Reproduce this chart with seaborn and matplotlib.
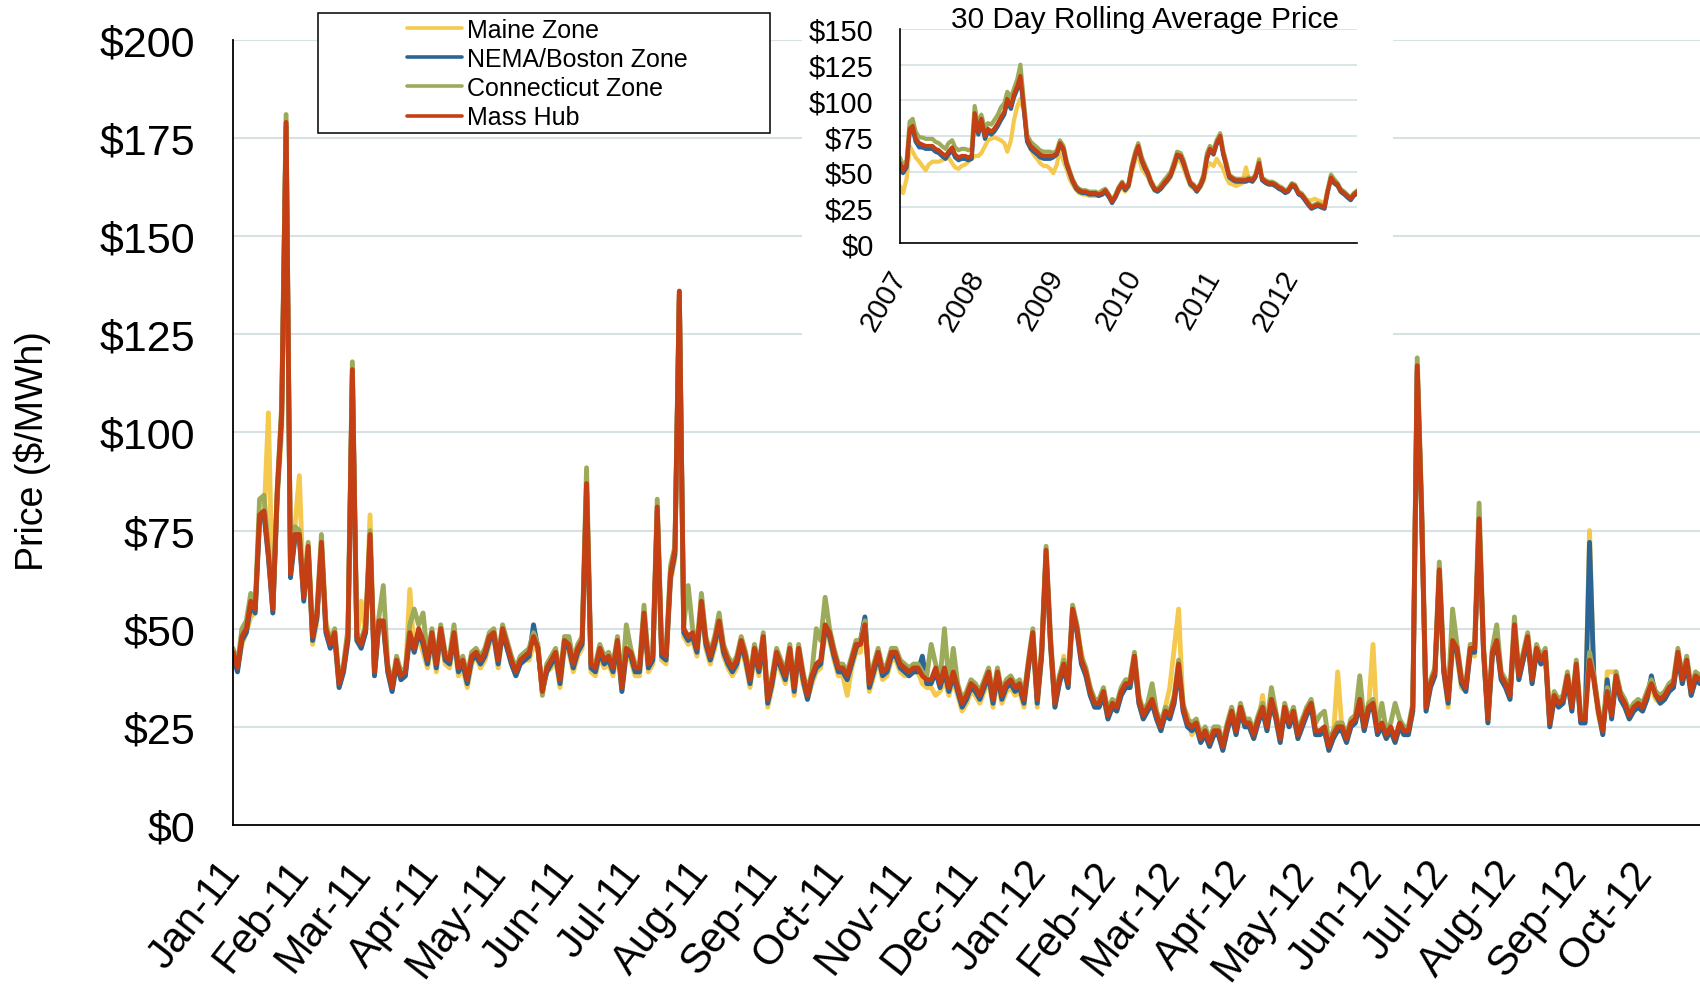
import matplotlib
matplotlib.use("Agg")
import matplotlib.pyplot as plt
from matplotlib.lines import Line2D
from matplotlib.patches import Rectangle
import pandas as pd
import seaborn as sns

zones = ["Maine Zone", "NEMA/Boston Zone", "Connecticut Zone", "Mass Hub"]
zone_colors = ["#F5C84E", "#2B6596", "#9BAB5A", "#C43F13"]

month_labels = ["Jan-11", "Feb-11", "Mar-11", "Apr-11", "May-11", "Jun-11",
                "Jul-11", "Aug-11", "Sep-11", "Oct-11", "Nov-11", "Dec-11",
                "Jan-12", "Feb-12", "Mar-12", "Apr-12", "May-12", "Jun-12",
                "Jul-12", "Aug-12", "Sep-12", "Oct-12"]
year_labels = ["2007", "2008", "2009", "2010", "2011", "2012"]

# daily price ($/MWh), every second day from 1 Jan 2011
mass_hub = [44, 40, 48, 50, 57, 55, 79, 80, 69, 55,
            85, 105, 179, 64, 74, 74, 58, 71, 48, 54,
            72, 50, 46, 49, 36, 40, 48, 116, 48, 46,
            50, 74, 39, 52, 52, 40, 35, 42, 38, 39,
            49, 45, 50, 47, 42, 49, 41, 50, 43, 42,
            49, 40, 42, 37, 43, 44, 42, 44, 48, 49,
            42, 50, 46, 42, 39, 42, 43, 44, 48, 45,
            34, 40, 42, 44, 37, 47, 46, 41, 45, 47,
            87, 41, 40, 45, 42, 43, 40, 47, 35, 45,
            44, 40, 40, 54, 41, 43, 81, 44, 43, 64,
            70, 136, 50, 48, 49, 45, 57, 47, 43, 47,
            52, 45, 42, 40, 42, 47, 43, 37, 45, 40,
            48, 32, 37, 44, 41, 38, 45, 35, 45, 38,
            33, 38, 41, 42, 51, 49, 44, 40, 40, 38,
            42, 46, 46, 51, 36, 40, 44, 39, 40, 44,
            44, 41, 40, 39, 40, 40, 38, 37, 37, 40,
            36, 40, 35, 39, 35, 31, 33, 36, 35, 33,
            36, 39, 32, 39, 33, 36, 37, 35, 36, 32,
            41, 49, 32, 44, 70, 47, 31, 37, 41, 36,
            55, 50, 42, 39, 34, 31, 31, 34, 28, 31,
            30, 34, 36, 36, 43, 32, 28, 30, 32, 28,
            25, 29, 28, 32, 41, 30, 26, 25, 26, 22,
            24, 21, 24, 24, 20, 25, 29, 24, 30, 26,
            26, 23, 27, 30, 25, 32, 28, 22, 30, 26,
            29, 23, 26, 29, 31, 24, 24, 25, 20, 23,
            25, 25, 22, 26, 27, 32, 25, 30, 31, 24,
            26, 23, 25, 22, 26, 24, 24, 30, 117, 80,
            30, 36, 39, 65, 40, 32, 47, 45, 37, 35,
            45, 45, 78, 45, 27, 44, 47, 38, 36, 33,
            51, 38, 43, 48, 37, 45, 42, 44, 26, 33,
            31, 32, 38, 30, 41, 27, 27, 42, 37, 29,
            24, 34, 28, 38, 33, 31, 28, 30, 31, 30,
            33, 36, 33, 32, 33, 35, 36, 44, 37, 42,
            34, 38, 37]

connecticut = [45, 41, 50, 52, 59, 56, 83, 84, 70, 56,
               86, 107, 181, 65, 76, 75, 59, 72, 49, 55,
               74, 51, 47, 50, 37, 41, 50, 118, 49, 47,
               51, 75, 40, 53, 61, 41, 36, 43, 39, 40,
               51, 55, 51, 54, 43, 50, 42, 51, 44, 43,
               51, 41, 43, 38, 44, 45, 43, 45, 49, 50,
               43, 51, 47, 43, 40, 43, 44, 45, 49, 46,
               33, 41, 43, 45, 38, 48, 48, 42, 46, 48,
               91, 42, 41, 46, 43, 44, 41, 48, 36, 51,
               45, 41, 41, 56, 42, 44, 83, 45, 44, 66,
               71, 136, 51, 61, 50, 46, 59, 48, 44, 48,
               54, 46, 43, 41, 43, 48, 44, 38, 46, 41,
               49, 33, 38, 45, 42, 39, 46, 36, 46, 39,
               34, 39, 50, 47, 58, 50, 45, 41, 41, 39,
               43, 47, 47, 52, 37, 41, 45, 40, 41, 45,
               45, 42, 41, 40, 41, 41, 39, 38, 46, 41,
               37, 50, 36, 45, 36, 32, 34, 37, 36, 34,
               37, 40, 33, 40, 34, 37, 38, 36, 37, 33,
               42, 50, 33, 45, 71, 48, 32, 38, 42, 37,
               56, 51, 43, 40, 35, 32, 32, 35, 29, 32,
               31, 35, 37, 37, 44, 33, 29, 31, 36, 29,
               26, 30, 29, 33, 42, 31, 27, 26, 27, 23,
               25, 22, 25, 25, 21, 26, 30, 25, 31, 27,
               27, 24, 28, 31, 26, 35, 29, 23, 31, 27,
               30, 24, 27, 30, 32, 26, 28, 29, 21, 24,
               26, 26, 23, 27, 28, 38, 26, 31, 32, 25,
               31, 24, 26, 31, 27, 25, 25, 31, 119, 82,
               31, 37, 40, 67, 41, 33, 55, 46, 38, 36,
               46, 46, 82, 46, 28, 45, 51, 39, 37, 34,
               53, 39, 44, 49, 38, 46, 43, 45, 27, 34,
               32, 33, 39, 31, 42, 28, 28, 44, 38, 30,
               25, 35, 29, 39, 34, 32, 29, 31, 32, 31,
               34, 37, 34, 33, 34, 36, 37, 45, 38, 43,
               35, 39, 38]

nema = [43, 39, 47, 49, 56, 54, 78, 79, 68, 54,
        84, 104, 178, 63, 73, 73, 57, 70, 47, 53,
        71, 49, 45, 48, 35, 39, 47, 115, 47, 45,
        49, 73, 38, 51, 51, 39, 34, 41, 37, 38,
        48, 44, 49, 46, 41, 48, 40, 49, 42, 41,
        48, 39, 41, 36, 42, 43, 41, 43, 47, 48,
        41, 49, 45, 41, 38, 41, 42, 43, 51, 45,
        34, 39, 41, 43, 36, 46, 45, 40, 44, 46,
        86, 40, 39, 44, 41, 42, 39, 46, 34, 44,
        43, 39, 39, 53, 40, 42, 80, 43, 42, 63,
        69, 135, 49, 47, 48, 44, 56, 46, 42, 46,
        51, 44, 41, 39, 41, 46, 42, 36, 44, 39,
        47, 31, 36, 43, 40, 37, 44, 34, 44, 37,
        32, 37, 40, 41, 50, 48, 43, 39, 39, 37,
        41, 45, 47, 53, 35, 39, 43, 38, 39, 43,
        43, 40, 39, 38, 39, 39, 43, 36, 36, 39,
        35, 39, 34, 38, 34, 30, 32, 35, 34, 32,
        35, 38, 31, 38, 32, 35, 36, 34, 35, 31,
        40, 48, 31, 43, 69, 46, 30, 36, 40, 35,
        54, 49, 41, 38, 33, 30, 30, 33, 27, 30,
        29, 33, 35, 35, 42, 31, 27, 29, 31, 27,
        24, 28, 27, 31, 40, 29, 25, 24, 25, 21,
        23, 20, 23, 23, 19, 24, 28, 23, 29, 25,
        25, 22, 26, 29, 24, 31, 27, 21, 29, 25,
        28, 22, 25, 28, 30, 23, 23, 24, 19, 22,
        24, 24, 21, 25, 26, 31, 24, 29, 30, 23,
        25, 22, 24, 21, 25, 23, 23, 29, 116, 79,
        29, 35, 38, 64, 39, 31, 46, 44, 36, 34,
        44, 44, 77, 44, 26, 43, 46, 37, 35, 32,
        50, 37, 42, 47, 36, 44, 41, 43, 25, 32,
        30, 31, 37, 29, 40, 26, 26, 72, 37, 29,
        23, 37, 27, 37, 32, 30, 27, 29, 30, 29,
        32, 38, 33, 31, 32, 34, 35, 43, 36, 41,
        33, 37, 36]

maine = [43, 40, 46, 49, 53, 54, 77, 78, 105, 54,
         83, 100, 176, 65, 76, 89, 58, 70, 46, 52,
         71, 52, 47, 47, 35, 39, 47, 113, 47, 57,
         49, 79, 38, 51, 51, 39, 34, 41, 37, 38,
         60, 44, 48, 44, 40, 47, 39, 48, 41, 40,
         47, 38, 40, 35, 41, 43, 40, 42, 46, 48,
         40, 49, 45, 41, 38, 41, 42, 42, 46, 44,
         35, 39, 40, 42, 35, 45, 44, 39, 43, 45,
         85, 39, 38, 43, 40, 41, 38, 45, 34, 43,
         42, 38, 38, 52, 39, 41, 79, 42, 41, 62,
         68, 134, 48, 46, 47, 43, 55, 45, 41, 45,
         50, 43, 40, 38, 40, 45, 41, 35, 43, 38,
         46, 30, 35, 42, 39, 36, 43, 33, 43, 36,
         32, 36, 39, 40, 49, 47, 42, 38, 38, 33,
         40, 44, 44, 52, 34, 38, 42, 37, 38, 42,
         42, 39, 38, 38, 39, 39, 36, 35, 35, 33,
         34, 37, 33, 37, 33, 29, 31, 34, 33, 31,
         34, 37, 30, 37, 31, 34, 35, 33, 34, 30,
         40, 47, 30, 43, 69, 45, 30, 36, 43, 35,
         54, 49, 44, 38, 33, 30, 30, 33, 27, 30,
         29, 33, 35, 35, 42, 31, 27, 30, 31, 27,
         24, 30, 35, 45, 55, 30, 28, 23, 25, 21,
         23, 20, 23, 23, 19, 24, 28, 23, 29, 25,
         25, 22, 26, 33, 24, 31, 27, 21, 29, 25,
         28, 22, 25, 30, 30, 23, 23, 24, 19, 22,
         39, 24, 21, 25, 26, 31, 24, 30, 46, 23,
         25, 22, 24, 21, 25, 23, 23, 29, 115, 78,
         29, 35, 38, 63, 39, 30, 45, 43, 35, 34,
         44, 43, 76, 44, 26, 43, 46, 37, 35, 32,
         49, 37, 42, 47, 36, 44, 41, 43, 25, 32,
         30, 31, 37, 29, 40, 26, 26, 75, 36, 28,
         23, 39, 39, 39, 32, 30, 27, 29, 30, 29,
         32, 35, 32, 31, 32, 34, 35, 43, 36, 41,
         33, 37, 36]

# 30 day rolling average, 1st and 15th of each month from Jan 2007
avg_mass_hub = [56, 51, 55, 80, 82, 73, 70, 69, 68, 68, 68, 66, 65, 63, 61, 64, 67, 62, 60, 61, 61, 60, 61, 91,
                78, 87, 75, 80, 78, 80, 84, 88, 92, 101, 96, 104, 110, 117, 94, 73, 68, 66, 64, 62, 61, 61, 61, 61,
                63, 70, 66, 56, 50, 44, 39, 37, 36, 36, 35, 35, 35, 34, 35, 37, 33, 29, 33, 38, 42, 38, 41, 52,
                62, 68, 58, 53, 49, 43, 38, 37, 39, 42, 45, 48, 55, 62, 61, 56, 48, 42, 40, 37, 41, 46, 60, 66,
                63, 70, 75, 63, 55, 47, 45, 44, 44, 44, 44, 45, 44, 47, 56, 45, 43, 42, 42, 41, 39, 38, 36, 37,
                41, 40, 35, 34, 31, 28, 25, 26, 27, 26, 25, 36, 46, 43, 41, 37, 35, 33, 31, 34, 36]
avg_connecticut = [60, 54, 58, 85, 87, 78, 74, 74, 73, 73, 73, 71, 70, 68, 66, 70, 72, 67, 65, 66, 66, 65, 66, 96,
                   82, 90, 80, 84, 83, 86, 90, 95, 98, 106, 102, 108, 115, 125, 98, 76, 71, 69, 67, 65, 64, 64, 64, 63,
                   65, 72, 68, 58, 51, 45, 40, 38, 37, 37, 36, 36, 36, 35, 37, 38, 34, 30, 34, 39, 43, 39, 42, 54,
                   64, 70, 60, 55, 50, 44, 39, 38, 41, 44, 47, 50, 57, 64, 63, 58, 49, 43, 41, 38, 42, 48, 63, 68,
                   65, 72, 77, 65, 57, 48, 46, 45, 45, 45, 45, 46, 45, 48, 58, 46, 44, 43, 43, 42, 40, 39, 37, 38,
                   42, 41, 36, 35, 32, 29, 26, 27, 28, 27, 26, 37, 48, 45, 42, 38, 36, 34, 32, 35, 37]
avg_nema = [52, 49, 53, 78, 80, 71, 67, 67, 66, 66, 66, 64, 63, 61, 59, 62, 65, 60, 58, 59, 59, 58, 59, 89,
            76, 85, 73, 78, 76, 78, 82, 86, 90, 99, 94, 102, 108, 115, 92, 71, 66, 64, 62, 60, 59, 59, 59, 60,
            62, 69, 65, 55, 49, 43, 38, 36, 35, 35, 34, 34, 34, 33, 34, 36, 32, 28, 32, 37, 41, 37, 40, 51,
            61, 67, 57, 52, 48, 42, 37, 36, 38, 41, 44, 47, 54, 61, 60, 55, 47, 41, 39, 36, 40, 45, 59, 65,
            62, 69, 74, 62, 54, 46, 44, 43, 43, 43, 43, 44, 43, 46, 55, 44, 42, 41, 41, 40, 38, 37, 35, 36,
            40, 39, 34, 33, 30, 27, 24, 25, 26, 25, 24, 35, 45, 42, 40, 36, 34, 32, 30, 33, 35]
avg_maine = [40, 35, 45, 68, 64, 60, 57, 54, 51, 55, 57, 57, 57, 58, 59, 60, 56, 53, 52, 54, 55, 57, 59, 61,
             61, 63, 68, 72, 73, 74, 73, 72, 70, 64, 72, 86, 96, 101, 92, 73, 66, 62, 59, 56, 54, 54, 52, 49,
             55, 66, 57, 52, 45, 41, 37, 35, 34, 34, 33, 33, 33, 33, 34, 35, 32, 29, 32, 36, 39, 36, 39, 48,
             58, 61, 52, 49, 46, 41, 37, 36, 38, 40, 43, 46, 52, 58, 57, 52, 45, 40, 38, 36, 39, 43, 53, 56,
             54, 59, 55, 52, 46, 42, 41, 40, 41, 42, 53, 44, 43, 46, 59, 44, 42, 41, 41, 40, 38, 37, 36, 37,
             40, 39, 35, 34, 31, 30, 30, 31, 30, 29, 28, 37, 45, 42, 40, 36, 34, 33, 31, 33, 35]

sns.set_style("white")
plt.rcParams["font.family"] = ["Liberation Sans", "DejaVu Sans"]
plt.rcParams["text.color"] = "black"
plt.rcParams["xtick.labelcolor"] = "black"
plt.rcParams["ytick.labelcolor"] = "black"

grid_color = "#D8E2E5"

daily = pd.DataFrame({"date": pd.date_range("2011-01-01", periods=len(mass_hub), freq="2D"),
                      "Maine Zone": maine, "NEMA/Boston Zone": nema,
                      "Connecticut Zone": connecticut, "Mass Hub": mass_hub})
daily = daily.melt(id_vars="date", var_name="zone", value_name="price")

rolling = pd.DataFrame({"date": pd.date_range("2007-01-01", periods=len(avg_mass_hub), freq="SMS"),
                        "Maine Zone": avg_maine, "NEMA/Boston Zone": avg_nema,
                        "Connecticut Zone": avg_connecticut, "Mass Hub": avg_mass_hub})
rolling = rolling.melt(id_vars="date", var_name="zone", value_name="price")

fig = plt.figure(figsize=(17, 10.03), dpi=100)

# main chart
ax = fig.add_axes([0.1371, 0.1765, 0.8629, 0.7827])
sns.lineplot(data=daily, x="date", y="price", hue="zone", hue_order=zones,
             palette=zone_colors, linewidth=3.5, legend=False, ax=ax)
ax.set_xlim(pd.Timestamp("2011-01-01"), pd.Timestamp("2012-10-26"))
ax.set_ylim(0, 200)
ax.set_yticks(range(0, 201, 25))
ax.set_yticklabels(["\\$" + str(v) for v in range(0, 201, 25)], fontsize=31)
ax.set_xticks(pd.date_range("2011-01-01", periods=len(month_labels), freq="MS"))
ax.set_xticklabels(month_labels, fontsize=30, rotation=52, ha="right", va="center",
                   rotation_mode="anchor")
ax.tick_params(axis="y", length=11, width=1, pad=16, color="#444444")
ax.tick_params(axis="x", length=10, width=1, pad=19, color="#444444")
ax.grid(axis="y", color=grid_color, lw=1.5)
ax.grid(axis="x", visible=False)
for side in ["top", "right"]:
    ax.spines[side].set_visible(False)
for side in ["left", "bottom"]:
    ax.spines[side].set_color("black")
    ax.spines[side].set_linewidth(1.3)
ax.set_xlabel("")
ax.set_ylabel("")
fig.text(32 / 1700, 1 - 451 / 1003, "Price ($/MWh)", rotation=90,
         ha="center", va="center", fontsize=27)

# white panel behind the inset
fig.add_artist(Rectangle((0.4718, 0.656), 0.3476, 0.344, transform=fig.transFigure,
                         facecolor="white", edgecolor="none", zorder=1))

# inset: 30 day rolling average
ax2 = fig.add_axes([0.5294, 0.7567, 0.2688, 0.2134])
ax2.set_zorder(2)
sns.lineplot(data=rolling, x="date", y="price", hue="zone", hue_order=zones,
             palette=zone_colors, linewidth=3.0, legend=False, ax=ax2)
ax2.set_xlim(pd.Timestamp("2007-01-01"), pd.Timestamp("2012-10-30"))
ax2.set_ylim(0, 150)
ax2.set_yticks(range(0, 151, 25))
ax2.set_yticklabels(["\\$" + str(v) for v in range(0, 151, 25)], fontsize=21)
ax2.set_xticks(pd.date_range("2007-01-01", periods=len(year_labels), freq="YS"))
ax2.set_xticklabels(year_labels, fontsize=21, rotation=60, ha="right", va="center",
                    rotation_mode="anchor")
ax2.tick_params(axis="y", length=6, width=1, pad=13, color="#444444")
ax2.tick_params(axis="x", length=6.5, width=1, pad=14, color="#444444")
ax2.grid(axis="y", color=grid_color, lw=1.3)
ax2.grid(axis="x", visible=False)
for side in ["top", "right"]:
    ax2.spines[side].set_visible(False)
for side in ["left", "bottom"]:
    ax2.spines[side].set_color("black")
    ax2.spines[side].set_linewidth(1.2)
ax2.set_xlabel("")
ax2.set_ylabel("")
fig.text(0.6735, 1 - 19.5 / 1003, "30 Day Rolling Average Price",
         ha="center", va="center", fontsize=21.5, zorder=3)

# legend box
fig.add_artist(Rectangle((318 / 1700, 1 - 134 / 1003), 452 / 1700, 120 / 1003,
                         transform=fig.transFigure, facecolor="white",
                         edgecolor="black", lw=1.1, zorder=3))
handles = [Line2D([], [], color=c, lw=2.6) for c in zone_colors]
leg = fig.legend(handles, zones, loc="upper left",
                 bbox_to_anchor=(407 / 1700, 1 - 18.5 / 1003), bbox_transform=fig.transFigure,
                 frameon=False, fontsize=18, handlelength=2.2, handletextpad=0.2,
                 labelspacing=0.21, borderpad=0, borderaxespad=0)
leg.set_zorder(4)

fig.savefig("out.png", dpi=100)
